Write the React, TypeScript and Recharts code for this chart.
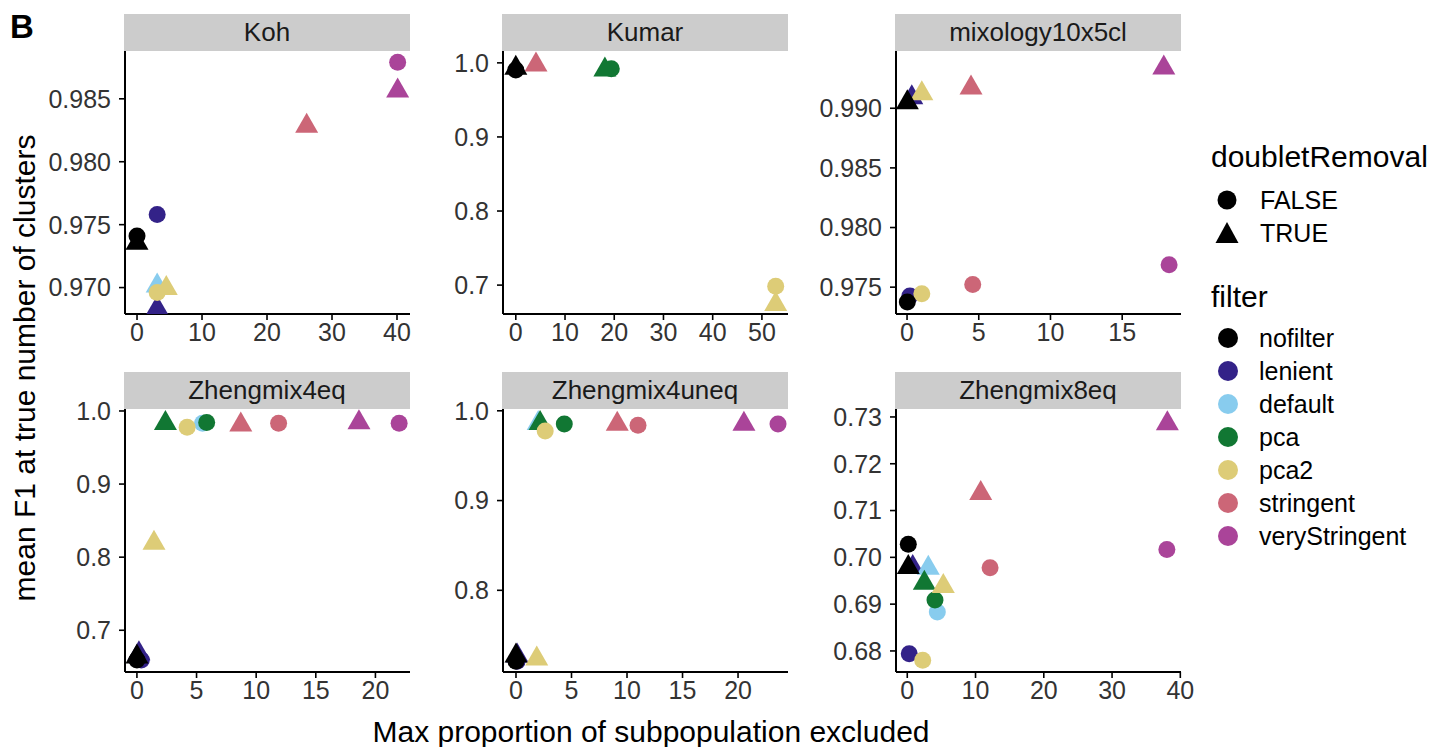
import React from 'react'
import { ScatterChart, Scatter, XAxis, YAxis } from 'recharts'

const FONT = '"Liberation Sans", Arial, Helvetica, sans-serif'

// filter levels and their colours (legend order)
const filters = ['nofilter', 'lenient', 'default', 'pca', 'pca2', 'stringent', 'veryStringent']
const filterColors = ['#000000', '#332288', '#88CCEE', '#117733', '#DDCC77', '#CC6677', '#AA4499']
// order the points are painted in (later = on top)
const drawOrder = ['lenient', 'default', 'pca', 'pca2', 'stringent', 'veryStringent', 'nofilter']
const doubletLevels = [false, true]
const doubletLabels = ['FALSE', 'TRUE']

// [filter, doubletRemoval, max proportion excluded, mean F1]
type Pt = [string, boolean, number, number]

const kohPoints: Pt[] = [
  ['nofilter', false, 0, 0.9741],
  ['nofilter', true, 0, 0.9738],
  ['lenient', false, 3.1, 0.9758],
  ['lenient', true, 3.1, 0.9686],
  ['default', true, 3.1, 0.9704],
  ['pca2', false, 3.1, 0.9696],
  ['pca2', true, 4.5, 0.9702],
  ['stringent', true, 26.1, 0.9831],
  ['veryStringent', false, 40.1, 0.9879],
  ['veryStringent', true, 40.1, 0.9859],
]

const kumarPoints: Pt[] = [
  ['nofilter', false, 0, 0.9905],
  ['nofilter', true, 0, 0.9973],
  ['stringent', true, 4.1, 1.0018],
  ['pca', true, 18.1, 0.995],
  ['pca', false, 19.4, 0.9919],
  ['pca2', false, 52.8, 0.6986],
  ['pca2', true, 52.8, 0.6784],
]

const mixologyPoints: Pt[] = [
  ['nofilter', true, 0.02, 0.99075],
  ['lenient', true, 0.33, 0.99117],
  ['pca2', true, 1.03, 0.9915],
  ['stringent', true, 4.46, 0.992],
  ['veryStringent', true, 17.9, 0.99366],
  ['nofilter', false, 0.02, 0.97375],
  ['lenient', false, 0.2, 0.97425],
  ['pca2', false, 1.03, 0.97444],
  ['stringent', false, 4.58, 0.97522],
  ['veryStringent', false, 18.27, 0.97688],
]

const zheng4eqPoints: Pt[] = [
  ['nofilter', false, 0, 0.6592],
  ['nofilter', true, 0, 0.6683],
  ['lenient', false, 0.37, 0.6592],
  ['lenient', true, 0.17, 0.6728],
  ['pca', true, 2.39, 0.9878],
  ['pca2', false, 4.21, 0.9778],
  ['default', false, 5.5, 0.9833],
  ['pca', false, 5.85, 0.9841],
  ['pca2', true, 1.43, 0.8239],
  ['stringent', true, 8.71, 0.9855],
  ['stringent', false, 11.88, 0.9833],
  ['veryStringent', true, 18.62, 0.9887],
  ['veryStringent', false, 21.99, 0.9833],
]

const zheng4uneqPoints: Pt[] = [
  ['nofilter', false, 0, 0.7211],
  ['nofilter', true, 0, 0.7307],
  ['lenient', false, 0.1, 0.7211],
  ['lenient', true, 0.1, 0.7307],
  ['pca2', true, 1.87, 0.7274],
  ['default', true, 2.0, 0.9897],
  ['pca', true, 2.17, 0.9897],
  ['pca2', false, 2.63, 0.9774],
  ['pca', false, 4.35, 0.9852],
  ['stringent', true, 9.12, 0.9889],
  ['stringent', false, 10.99, 0.9838],
  ['veryStringent', true, 20.53, 0.9889],
  ['veryStringent', false, 23.6, 0.9852],
]

const zheng8eqPoints: Pt[] = [
  ['nofilter', false, 0.15, 0.7028],
  ['nofilter', true, 0.15, 0.6986],
  ['lenient', true, 0.8, 0.6986],
  ['default', true, 3.08, 0.6984],
  ['pca', true, 2.5, 0.6952],
  ['pca2', true, 5.28, 0.6945],
  ['pca', false, 4.06, 0.6909],
  ['default', false, 4.4, 0.6883],
  ['lenient', false, 0.29, 0.6794],
  ['pca2', false, 2.26, 0.678],
  ['stringent', true, 10.76, 0.7144],
  ['stringent', false, 12.13, 0.6978],
  ['veryStringent', true, 38.1, 0.7293],
  ['veryStringent', false, 38.03, 0.7017],
]

const kohXTicks = [0, 10, 20, 30, 40]
const kumarXTicks = [0, 10, 20, 30, 40, 50]
const mixologyXTicks = [0, 5, 10, 15]
const zheng4eqXTicks = [0, 5, 10, 15, 20]
const zheng4uneqXTicks = [0, 5, 10, 15, 20]
const zheng8eqXTicks = [0, 10, 20, 30, 40]

const kohYTicks = [0.97, 0.975, 0.98, 0.985]
const kumarYTicks = [0.7, 0.8, 0.9, 1.0]
const mixologyYTicks = [0.975, 0.98, 0.985, 0.99]
const zheng4eqYTicks = [0.7, 0.8, 0.9, 1.0]
const zheng4uneqYTicks = [0.8, 0.9, 1.0]
const zheng8eqYTicks = [0.68, 0.69, 0.7, 0.71, 0.72, 0.73]

const panels = [
  { name: 'Koh', points: kohPoints, xDomain: [-1.85, 42], xTicks: kohXTicks, yDomain: [0.9679, 0.9888], yTicks: kohYTicks, digits: 3, col: 0, row: 0 },
  { name: 'Kumar', points: kumarPoints, xDomain: [-2.6, 55.3], xTicks: kumarXTicks, yDomain: [0.661, 1.016], yTicks: kumarYTicks, digits: 1, col: 1, row: 0 },
  { name: 'mixology10x5cl', points: mixologyPoints, xDomain: [-0.77, 19.1], xTicks: mixologyXTicks, yDomain: [0.97275, 0.9948], yTicks: mixologyYTicks, digits: 3, col: 2, row: 0 },
  { name: 'Zhengmix4eq', points: zheng4eqPoints, xDomain: [-1.0, 22.9], xTicks: zheng4eqXTicks, yDomain: [0.6429, 1.0027], yTicks: zheng4eqYTicks, digits: 1, col: 0, row: 1 },
  { name: 'Zhengmix4uneq', points: zheng4uneqPoints, xDomain: [-1.17, 24.5], xTicks: zheng4uneqXTicks, yDomain: [0.709, 1.002], yTicks: zheng4uneqYTicks, digits: 1, col: 1, row: 1 },
  { name: 'Zhengmix8eq', points: zheng8eqPoints, xDomain: [-1.65, 40.1], xTicks: zheng8eqXTicks, yDomain: [0.6755, 0.7317], yTicks: zheng8eqYTicks, digits: 2, col: 2, row: 1 },
]

const colLeft = [125, 503, 896]
const rowTop = [51, 409]
const PW = 285
const PH = 263
const YW = 80
const XH = 40
const MT = 16
const MR = 22
const STRIP = 37

const colorOf = (f: string) => filterColors[filters.indexOf(f)]

function Dot(props: any) {
  const { cx, cy, fill } = props
  if (cx == null || cy == null) return null
  return <circle cx={cx} cy={cy} r={8.5} fill={fill} />
}

function Tri(props: any) {
  const { cx, cy, fill } = props
  if (cx == null || cy == null) return null
  return <polygon points={`${cx},${cy - 10} ${cx - 11.5},${cy + 10} ${cx + 11.5},${cy + 10}`} fill={fill} />
}

function Panel({ p }: { p: (typeof panels)[number] }) {
  const left = colLeft[p.col]
  const top = rowTop[p.row]
  const tickStyle = { fontSize: 25, fill: '#333333', fontFamily: FONT }
  return (
    <>
      <div
        style={{
          position: 'absolute',
          left: left - 1,
          top: top - STRIP,
          width: PW + 1,
          height: STRIP,
          background: '#cccccc',
          color: '#1a1a1a',
          fontSize: 26,
          lineHeight: `${STRIP}px`,
          textAlign: 'center',
        }}
      >
        {p.name}
      </div>
      <div style={{ position: 'absolute', left: left - YW, top: top - MT }}>
        <ScatterChart
          width={YW + PW + MR}
          height={MT + PH + XH}
          margin={{ top: MT, right: MR, left: 0, bottom: 0 }}
        >
          <XAxis
            type="number"
            dataKey="x"
            domain={p.xDomain}
            ticks={p.xTicks}
            allowDataOverflow
            height={XH}
            tick={tickStyle}
            tickSize={6}
            tickMargin={3}
            axisLine={{ stroke: '#000', strokeWidth: 2 }}
            tickLine={{ stroke: '#000', strokeWidth: 1.6 }}
            interval={0}
          />
          <YAxis
            type="number"
            dataKey="y"
            domain={p.yDomain}
            ticks={p.yTicks}
            allowDataOverflow
            width={YW}
            tick={tickStyle}
            tickSize={6}
            tickMargin={8}
            tickFormatter={(v: number) => v.toFixed(p.digits)}
            axisLine={{ stroke: '#000', strokeWidth: 2 }}
            tickLine={{ stroke: '#000', strokeWidth: 1.6 }}
            interval={0}
          />
          {drawOrder.flatMap((f) =>
            doubletLevels.map((d) => {
              const data = p.points
                .filter((q) => q[0] === f && q[1] === d)
                .map((q) => ({ x: q[2], y: q[3] }))
              if (!data.length) return null
              return (
                <Scatter
                  key={`${f}-${d}`}
                  data={data}
                  fill={colorOf(f)}
                  shape={d ? Tri : Dot}
                  isAnimationActive={false}
                />
              )
            })
          )}
        </ScatterChart>
      </div>
    </>
  )
}

export default function App() {
  return (
    <div
      style={{
        position: 'absolute',
        left: 0,
        top: 0,
        width: 1434,
        height: 747,
        background: '#fff',
        fontFamily: FONT,
        overflow: 'hidden',
      }}
    >
      <svg width={1434} height={747} style={{ position: 'absolute', left: 0, top: 0 }}>
        <text x={10} y={38} fontSize={33} fontWeight="bold" fill="#000" fontFamily={FONT}>
          B
        </text>
        <text
          transform="translate(24, 368) rotate(-90)"
          textAnchor="middle"
          dominantBaseline="central"
          fontSize={30}
          fill="#000"
          fontFamily={FONT}
        >
          mean F1 at true number of clusters
        </text>
        <text x={651} y={731} textAnchor="middle" dominantBaseline="central" fontSize={30} fill="#000" fontFamily={FONT}>
          Max proportion of subpopulation excluded
        </text>

        {/* legend: doubletRemoval */}
        <text x={1211} y={156} dominantBaseline="central" fontSize={30} fill="#000" fontFamily={FONT}>
          doubletRemoval
        </text>
        {doubletLabels.map((lab, i) => {
          const cy = 200 + i * 33
          return (
            <g key={lab}>
              {i === 0 ? (
                <circle cx={1227} cy={cy} r={9.5} fill="#000" />
              ) : (
                <polygon points={`1227,${cy - 11} 1215.5,${cy + 10} 1238.5,${cy + 10}`} fill="#000" />
              )}
              <text x={1260} y={cy} dominantBaseline="central" fontSize={25} fill="#000" fontFamily={FONT}>
                {lab}
              </text>
            </g>
          )
        })}

        {/* legend: filter */}
        <text x={1211} y={296} dominantBaseline="central" fontSize={30} fill="#000" fontFamily={FONT}>
          filter
        </text>
        {filters.map((f, i) => {
          const cy = 338 + i * 33
          return (
            <g key={f}>
              <circle cx={1228} cy={cy} r={10} fill={filterColors[i]} />
              <text x={1259} y={cy} dominantBaseline="central" fontSize={25} fill="#000" fontFamily={FONT}>
                {f}
              </text>
            </g>
          )
        })}
      </svg>
      {panels.map((p) => (
        <Panel key={p.name} p={p} />
      ))}
    </div>
  )
}
